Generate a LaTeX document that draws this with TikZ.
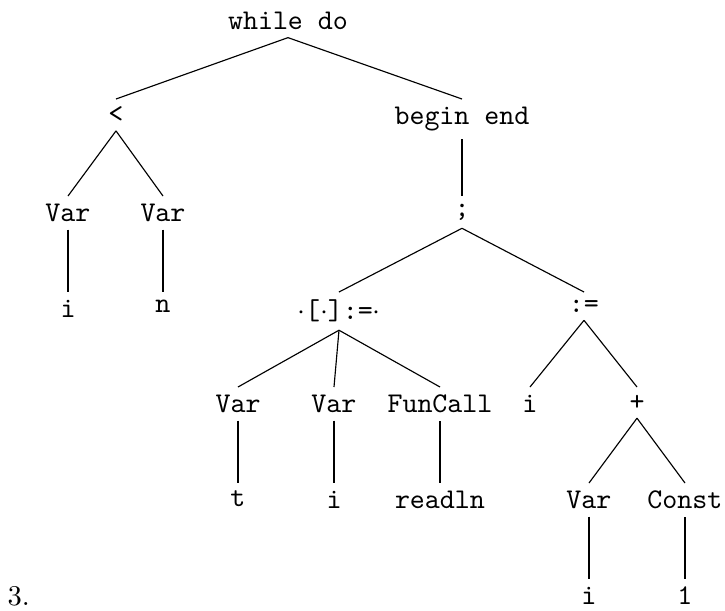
\documentclass[tikz,border=0pt]{standalone}
\begin{document}
\begin{tikzpicture}[x=0.35pt,y=-0.35pt,
  tn/.style={font=\ttfamily, inner sep=2.6pt, anchor=north},
  lbl/.style={font=\rmfamily, inner sep=0pt, anchor=base west},
  edge/.style={line width=0.4pt}]
\useasboundingbox (0,0) rectangle (725,610);
% nodes
\node[tn] (root) at (288,4) {while do};
\node[tn] (lt) at (116,99) {<};
\node[tn] (be) at (462,99) {begin end};
\node[tn] (v1) at (68,196) {Var};
\node[tn] (v2) at (163,196) {Var};
\node[tn] (i1) at (68,292) {i};
\node[tn] (n) at (163,292) {n};
\node[tn] (semi) at (462,196) {;};
\node[tn] (asg) at (339,292) {$\cdot$[$\cdot$]:=$\cdot$};
\node[tn] (as2) at (584,292) {:=};
\node[tn] (vt) at (238,387) {Var};
\node[tn] (vi) at (334,387) {Var};
\node[tn] (fc) at (440,387) {FunCall};
\node[tn] (t) at (238,483) {t};
\node[tn] (i2) at (334,483) {i};
\node[tn] (rd) at (440,483) {readln};
\node[tn] (i3) at (530,387) {i};
\node[tn] (plus) at (637,387) {+};
\node[tn] (vv) at (589,483) {Var};
\node[tn] (cc) at (685,483) {Const};
\node[tn] (i4) at (589,579) {i};
\node[tn] (one) at (685,579) {1};
\node[lbl] (num) at (7,605) {3.};
% edges
\draw[edge] (root.south) -- (lt.north);
\draw[edge] (root.south) -- (be.north);
\draw[edge] (lt.south) -- (v1.north);
\draw[edge] (lt.south) -- (v2.north);
\draw[edge] (v1.south) -- (i1.north);
\draw[edge] (v2.south) -- (n.north);
\draw[edge] (be.south) -- (semi.north);
\draw[edge] (semi.south) -- (asg.north);
\draw[edge] (semi.south) -- (as2.north);
\draw[edge] (asg.south) -- (vt.north);
\draw[edge] (asg.south) -- (vi.north);
\draw[edge] (asg.south) -- (fc.north);
\draw[edge] (vt.south) -- (t.north);
\draw[edge] (vi.south) -- (i2.north);
\draw[edge] (fc.south) -- (rd.north);
\draw[edge] (as2.south) -- (i3.north);
\draw[edge] (as2.south) -- (plus.north);
\draw[edge] (plus.south) -- (vv.north);
\draw[edge] (plus.south) -- (cc.north);
\draw[edge] (vv.south) -- (i4.north);
\draw[edge] (cc.south) -- (one.north);
\end{tikzpicture}
\end{document}
